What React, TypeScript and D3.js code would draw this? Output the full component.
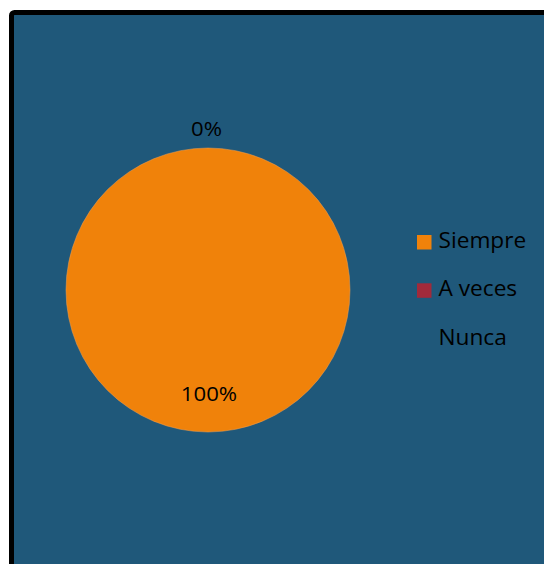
import React from "react";
import * as d3 from "d3";

const categories = ["Siempre", "A veces", "Nunca"];
const values = [100, 0, 0];
const colors = ["#F0820A", "#A12A3B", "#1F587A"];
const labels = ["100%", "0%"];

export default function App() {
  const W = 544, H = 564;
  const cx = 208, cy = 290, r = 142;
  const sx = 1.08;
  const pie = d3.pie<number>().sort(null)(values);
  const arc = d3.arc<d3.PieArcDatum<number>>().innerRadius(0).outerRadius(r);
  return (
    <svg width={W} height={H} style={{ position: "absolute", left: 0, top: 0 }} fontFamily="'Open Sans', sans-serif">
      <rect x={0} y={0} width={W} height={H} fill="#fff" />
      <rect x={11.5} y={12.5} width={W} height={H} fill="#1F587A" stroke="#000" strokeWidth={5} rx={3} />
      <g transform={`translate(${cx},${cy})`}>
        {pie.map((d, i) =>
          d.value > 0 ? <path key={i} d={arc(d) as string} fill={colors[i]} stroke="#F5A050" strokeWidth={0.5} /> : null
        )}
      </g>
      <text transform={`translate(${cx + 1},401) scale(${sx},1)`} textAnchor="middle" fontSize={20.5} fill="#000">{labels[0]}</text>
      <text transform={`translate(${cx - 1.5},135.5) scale(${sx},1)`} textAnchor="middle" fontSize={20.5} fill="#000">{labels[1]}</text>
      {categories.map((c, i) => (
        <g key={c} transform={`translate(0, ${i * 48.3})`}>
          {i < 2 && <rect x={417} y={235} width={14.5} height={14.5} fill={colors[i]} />}
          <text transform={`translate(438.5,248) scale(${sx},1)`} fontSize={21} fill="#000">{c}</text>
        </g>
      ))}
    </svg>
  );
}
